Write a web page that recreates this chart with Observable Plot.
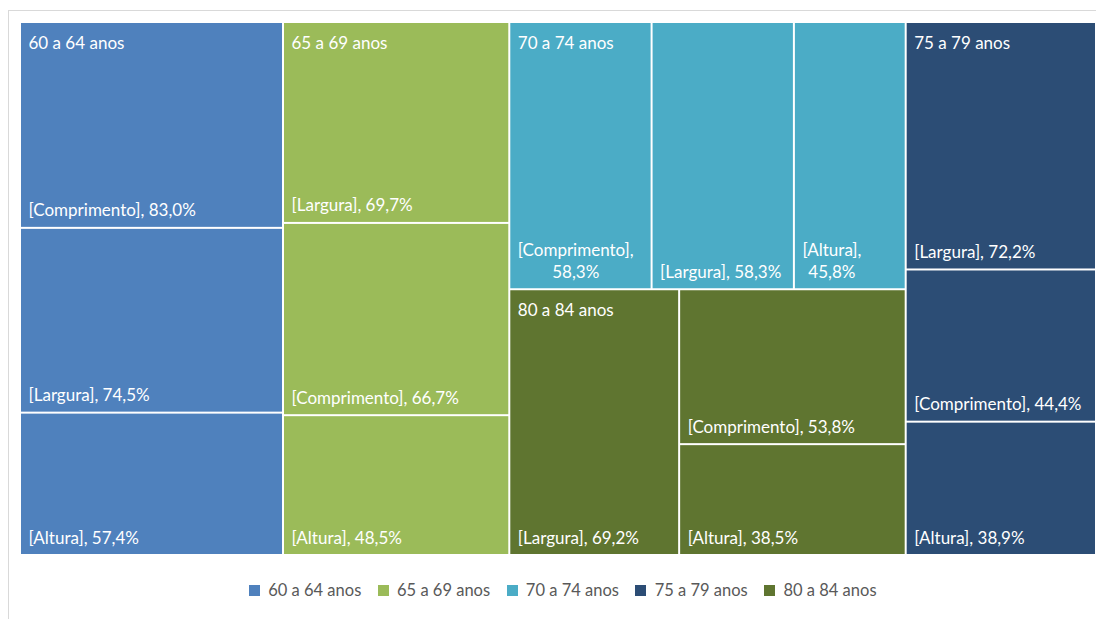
<!DOCTYPE html>
<html><head><meta charset="utf-8">
<script src="https://cdn.jsdelivr.net/npm/d3@7"></script>
<script src="https://cdn.jsdelivr.net/npm/@observablehq/plot@0.6"></script>
<style>
html,body{margin:0;padding:0;background:#fff;overflow:hidden;width:1096px;height:619px}
#frame{position:absolute;left:8px;top:10px;width:1200px;height:800px;border:1px solid #d9d9d9;box-sizing:border-box}
#chart{position:absolute;left:0;top:0;width:1096px}
#legend{padding-left:46px;box-sizing:border-box;width:1096px}
#legend > div{justify-content:center !important;font-family:Lato,sans-serif !important;font-size:16.5px !important;color:#595959 !important;height:50px;margin:0 !important}
</style></head><body>
<div id="frame"></div>
<div id="chart"></div>
<script>
const groups = ["60 a 64 anos","65 a 69 anos","70 a 74 anos","75 a 79 anos","80 a 84 anos"];
const colors = ["#4F81BD","#9BBB59","#4BACC6","#2C4D75","#5F7530"];
const dimensions = ["Comprimento","Largura","Altura"];
const comprimento = [83.0, 66.7, 58.3, 44.4, 53.8];
const largura     = [74.5, 69.7, 58.3, 72.2, 69.2];
const altura      = [57.4, 48.5, 45.8, 38.9, 38.5];
// arrangement of the group tiles in columns, as in the reference treemap
const columns = [["60 a 64 anos"],["65 a 69 anos"],["70 a 74 anos","80 a 84 anos"],["75 a 79 anos"]];
const childTiling = {"60 a 64 anos":"stack","65 a 69 anos":"stack","70 a 74 anos":"row","75 a 79 anos":"stack","80 a 84 anos":"squarify"};

const W = 1076, H = 533, FS = 17, FONT = "Lato";
const series = [comprimento, largura, altura];
const data = {name: "root", children: groups.map((g, i) => ({
  name: g, children: dimensions.map((d, j) => ({name: d, group: g, value: series[j][i]}))
}))};

function tile(node, x0, y0, x1, y1) {
  if (node.depth === 0) {
    let x = x0;
    for (const names of columns) {
      const col = names.map(n => node.children.find(c => c.data.name === n));
      const s = d3.sum(col, c => c.value);
      const xn = x + (x1 - x0) * s / node.value;
      let y = y0;
      for (const c of col) { c.x0 = x; c.x1 = xn; c.y0 = y; y = y + (y1 - y0) * c.value / s; c.y1 = y; }
      x = xn;
    }
  } else {
    const t = childTiling[node.data.name];
    const f = t === "stack" ? d3.treemapSlice : t === "row" ? d3.treemapDice : d3.treemapSquarify.ratio(1);
    f(node, x0, y0, x1, y1);
  }
}

const root = d3.hierarchy(data).sum(d => d.value || 0).sort((a, b) => b.value - a.value);
d3.treemap().size([W, H]).tile(tile)(root);

const ctx = document.createElement("canvas").getContext("2d");
ctx.font = `${FS}px ${FONT}`;
const fmt = v => v.toFixed(1).replace(".", ",") + "%";
const leaves = root.leaves().map(n => {
  const a = `[${n.data.name}],`, b = fmt(n.data.value);
  const full = a + " " + b;
  const wrap = ctx.measureText(full).width > (n.x1 - n.x0) - 16;
  const w = Math.max(ctx.measureText(a).width, ctx.measureText(b).width);
  return {x0: n.x0, x1: n.x1, y0: n.y0, y1: n.y1, group: n.data.group, label: wrap ? a + "\n" + b : full, wrap, xc: n.x0 + 8 + w / 2};
});
const groupNodes = root.children.map(n => ({x0: n.x0, y0: n.y0, name: n.data.name}));

const plot = Plot.plot({
  width: 1096, height: 565,
  marginLeft: 20, marginRight: 0, marginTop: 22, marginBottom: 10,
  x: {domain: [0, W], axis: null},
  y: {domain: [0, H], axis: null, reverse: true},
  color: {domain: groups, range: colors},
  style: {fontFamily: FONT, background: "transparent"},
  marks: [
    Plot.rect(leaves, {x1: "x0", x2: "x1", y1: "y0", y2: "y1", fill: "group", inset: 1}),
    Plot.text(leaves.filter(d => !d.wrap), {x: "x0", y: "y1", text: "label", textAnchor: "start", lineAnchor: "bottom", dx: 8, dy: -12, fill: "white", fontSize: FS}),
    Plot.text(leaves.filter(d => d.wrap), {x: "xc", y: "y1", text: "label", textAnchor: "middle", lineAnchor: "bottom", lineHeight: 1.25, dy: -12, fill: "white", fontSize: FS}),
    Plot.text(groupNodes, {x: "x0", y: "y0", text: "name", textAnchor: "start", lineAnchor: "bottom", dx: 8, dy: 26, fill: "white", fontSize: FS})
  ]
});
const chart = document.getElementById("chart");
chart.appendChild(plot);
const leg = document.createElement("div");
leg.id = "legend";
leg.appendChild(plot.legend("color", {legend: "swatches", swatchSize: 11}));
chart.appendChild(leg);
</script>
</body></html>
